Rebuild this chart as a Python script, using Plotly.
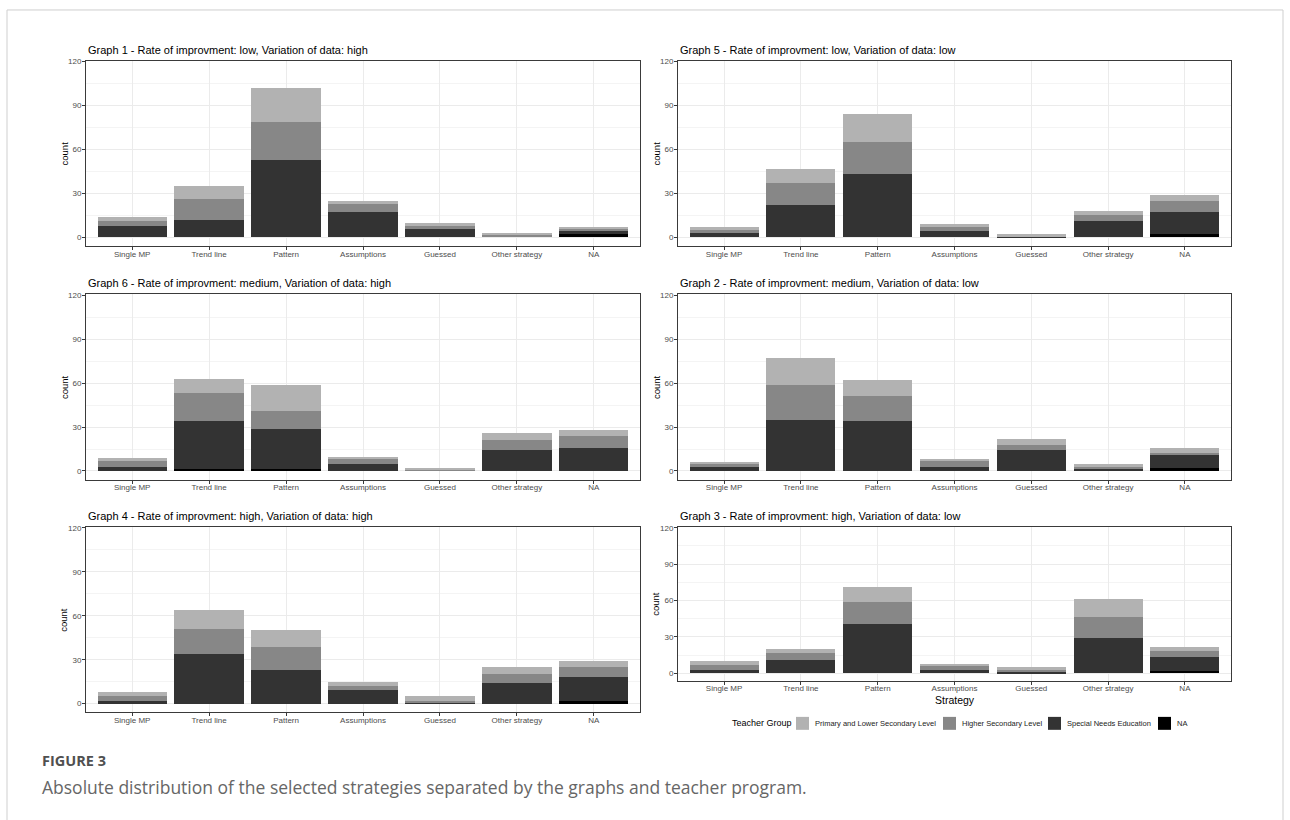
import plotly.graph_objects as go

W, H = 1290, 820

# ---- data -----------------------------------------------------------------
strategies = ["Single MP", "Trend line", "Pattern", "Assumptions",
              "Guessed", "Other strategy", "NA"]

# teacher groups, listed in stacking order (bottom -> top)
groups = ["NA", "Special Needs Education", "Higher Secondary Level",
          "Primary and Lower Secondary Level"]
group_colors = {
    "Primary and Lower Secondary Level": "#b2b2b2",
    "Higher Secondary Level": "#878787",
    "Special Needs Education": "#333333",
    "NA": "#000000",
}
legend_order = ["Primary and Lower Secondary Level", "Higher Secondary Level",
                "Special Needs Education", "NA"]

y_ticks = [0, 30, 60, 90, 120]

g1_na      = [0, 0, 0, 0, 0, 0, 2]
g1_special = [8, 12, 53, 17, 6, 0, 3]
g1_higher  = [3, 14, 26, 6, 2, 2, 1]
g1_primary = [3, 9, 23, 2, 2, 1, 1]

g5_na      = [0, 0, 0, 0, 0, 0, 2]
g5_special = [3, 22, 43, 4, 1, 11, 15]
g5_higher  = [2, 15, 22, 3, 0, 4, 8]
g5_primary = [2, 10, 19, 2, 1, 3, 4]

g6_na      = [0, 1, 1, 0, 0, 0, 0]
g6_special = [3, 33, 28, 5, 0, 14, 16]
g6_higher  = [4, 19, 12, 3, 1, 7, 8]
g6_primary = [2, 10, 18, 1, 1, 5, 4]

g2_na      = [0, 0, 0, 0, 0, 0, 2]
g2_special = [3, 35, 34, 3, 14, 1, 9]
g2_higher  = [2, 24, 17, 4, 4, 2, 1]
g2_primary = [1, 18, 11, 1, 4, 2, 4]

g4_na      = [0, 0, 0, 0, 0, 0, 2]
g4_special = [2, 34, 23, 9, 1, 14, 16]
g4_higher  = [3, 17, 16, 3, 1, 6, 7]
g4_primary = [3, 13, 11, 3, 3, 5, 4]

g3_na      = [0, 0, 0, 0, 0, 0, 2]
g3_special = [3, 11, 41, 3, 1, 29, 11]
g3_higher  = [4, 6, 18, 3, 2, 17, 5]
g3_primary = [3, 3, 12, 1, 2, 15, 4]

panel_titles = [
    "Graph 1 - Rate of improvment: low, Variation of data: high",
    "Graph 5 - Rate of improvment: low, Variation of data: low",
    "Graph 6 - Rate of improvment: medium, Variation of data: high",
    "Graph 2 - Rate of improvment: medium, Variation of data: low",
    "Graph 4 - Rate of improvment: high, Variation of data: high",
    "Graph 3 - Rate of improvment: high, Variation of data: low",
]
panel_values = [
    [g1_na, g1_special, g1_higher, g1_primary],
    [g5_na, g5_special, g5_higher, g5_primary],
    [g6_na, g6_special, g6_higher, g6_primary],
    [g2_na, g2_special, g2_higher, g2_primary],
    [g4_na, g4_special, g4_higher, g4_primary],
    [g3_na, g3_special, g3_higher, g3_primary],
]

# ---- layout geometry (pixels: left, right, top, bottom) -------------------
LX = (86, 640)
RX = (678, 1231)
boxes = [
    (*LX, 58, 244),
    (*RX, 58, 244),
    (*LX, 292.5, 478.5),
    (*RX, 292.5, 478.5),
    (*LX, 526, 712),
    (*RX, 526, 680),
]

FONT = "Liberation Sans, Arial, sans-serif"
TICK_COLOR = "#4d4d4d"


def fx(p):
    return p / W


def fy(p):
    return 1 - p / H


fig = go.Figure()
annotations = []
shapes = []

for i, (title, vals, box) in enumerate(zip(panel_titles, panel_values, boxes)):
    n = i + 1
    xa = "x" if n == 1 else f"x{n}"
    ya = "y" if n == 1 else f"y{n}"
    for g, v in zip(groups, vals):
        fig.add_trace(go.Bar(
            x=strategies, y=v, name=g, xaxis=xa, yaxis=ya,
            marker=dict(color=group_colors[g], line=dict(width=0)),
            showlegend=False,
        ))
    l, r, t, b = box
    axis_common = dict(
        showline=True, mirror=True, linecolor="#3a3a3a", linewidth=1,
        ticks="outside", ticklen=3, tickcolor="#3a3a3a", tickwidth=1,
        gridcolor="#ebebeb", gridwidth=1, zeroline=False,
        tickfont=dict(family=FONT, size=8, color=TICK_COLOR),
    )
    fig.layout[f"xaxis{n if n > 1 else ''}"] = dict(
        axis_common, domain=[fx(l), fx(r)], anchor=ya,
        type="category", categoryorder="array", categoryarray=strategies,
        range=[-0.6, 6.6], showgrid=True, ticklabelstandoff=-3,
    )
    fig.layout[f"yaxis{n if n > 1 else ''}"] = dict(
        axis_common, domain=[fy(b), fy(t)], anchor=xa,
        range=[-6, 120.6], tickvals=y_ticks, showgrid=True,
        ticklabelstandoff=-1,
        minor=dict(tickvals=[15, 45, 75, 105], showgrid=True,
                   gridcolor="#f4f4f4", gridwidth=0.6, ticks=""),
    )
    annotations.append(dict(
        text=title, x=fx(l), y=fy(t - 3), xref="paper", yref="paper",
        xanchor="left", yanchor="bottom", showarrow=False,
        font=dict(family=FONT, size=11, color="#000000"),
    ))
    annotations.append(dict(
        text="count", x=fx(l - 22), y=fy((t + b) / 2), xref="paper", yref="paper",
        xanchor="center", yanchor="middle", showarrow=False, textangle=-90,
        font=dict(family=FONT, size=9.5, color="#000000"),
    ))

# x-axis title under the bottom-right panel
annotations.append(dict(
    text="Strategy", x=fx((RX[0] + RX[1]) / 2), y=fy(700), xref="paper", yref="paper",
    xanchor="center", yanchor="middle", showarrow=False,
    font=dict(family=FONT, size=10.5, color="#000000"),
))

# legend: title, keys and labels
LEG_Y = 723
annotations.append(dict(
    text="Teacher Group", x=fx(730), y=fy(LEG_Y), xref="paper", yref="paper",
    xanchor="left", yanchor="middle", showarrow=False,
    font=dict(family=FONT, size=9, color="#000000"),
))
key_x = [796, 943, 1048, 1158]
for g, kx in zip(legend_order, key_x):
    shapes.append(dict(
        type="rect", xref="paper", yref="paper",
        x0=fx(kx), x1=fx(kx + 13), y0=fy(LEG_Y + 6.5), y1=fy(LEG_Y - 6.5),
        fillcolor=group_colors[g], line=dict(width=0),
    ))
    annotations.append(dict(
        text=g, x=fx(kx + 17), y=fy(LEG_Y), xref="paper", yref="paper",
        xanchor="left", yanchor="middle", showarrow=False,
        font=dict(family=FONT, size=7.5, color="#222222"),
    ))

# figure caption
annotations.append(dict(
    text="<b>FIGURE 3</b>", x=fx(40), y=fy(760), xref="paper", yref="paper",
    xanchor="left", yanchor="middle", showarrow=False,
    font=dict(family="Open Sans, sans-serif", size=14.5, color="#505050"),
))
annotations.append(dict(
    text="Absolute distribution of the selected strategies separated by the graphs and teacher program.",
    x=fx(40), y=fy(787), xref="paper", yref="paper",
    xanchor="left", yanchor="middle", showarrow=False,
    font=dict(family="Open Sans, sans-serif", size=17.5, color="#666666"),
))

# outer frame
shapes.append(dict(
    type="rect", xref="paper", yref="paper",
    x0=fx(7), x1=fx(1283), y0=fy(830), y1=fy(7),
    line=dict(color="#cfcfcf", width=1), fillcolor="rgba(0,0,0,0)", layer="below",
))

fig.update_layout(
    width=W, height=H, margin=dict(l=0, r=0, t=0, b=0),
    paper_bgcolor="#ffffff", plot_bgcolor="#ffffff",
    barmode="stack", bargap=0.1,
    annotations=annotations, shapes=shapes, showlegend=False,
    font=dict(family=FONT),
)

fig.write_html("out.html")
